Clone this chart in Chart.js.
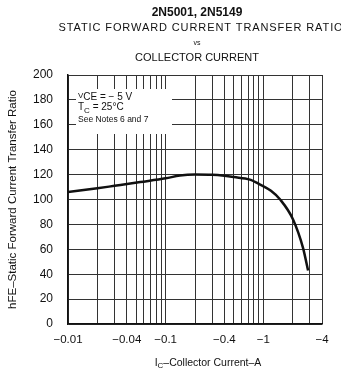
<!DOCTYPE html>
<html>
<head>
<meta charset="utf-8">
<script src="https://cdn.jsdelivr.net/npm/chart.js@4.4.1/dist/chart.umd.min.js"></script>
<style>
  html, body { margin: 0; padding: 0; background: #fff; }
  #wrap { width: 341px; height: 371px; }
</style>
</head>
<body>
<div id="wrap"><canvas id="hfeChart" width="341" height="371"></canvas></div>
<script>
// ============================================================
// hFE vs IC — 2N5001 / 2N5149
// ============================================================

// collector current magnitude (A), log axis
const currentA = [0.01, 0.02, 0.03, 0.055, 0.1, 0.14, 0.2, 0.3, 0.4, 0.5, 0.73, 0.93, 1.2, 1.49, 2.02, 2.56, 2.88];
// static forward current transfer ratio
const hfeValues = [106, 109, 111, 114, 117, 119.2, 120, 119.8, 119, 118, 116, 112, 107, 100, 84, 61, 43];

const xGridTicks = [0.01, 0.02, 0.03, 0.04, 0.05, 0.06, 0.07, 0.08, 0.09,
  0.1, 0.2, 0.3, 0.4, 0.5, 0.6, 0.7, 0.8, 0.9, 1, 2, 3, 4];
const xLabelTicks = [0.01, 0.04, 0.1, 0.4, 1, 4];
const xLabelText = ["\u22120.01", "\u22120.04", "\u22120.1", "\u22120.4", "\u22121", "\u22124"];

const FONT = "'Liberation Sans', Arial, sans-serif";
const INK = "#111";

// draw a run of [text, fontSize, baselineShift] pieces
function drawRuns(ctx, x, y, runs) {
  let cx = x;
  runs.forEach(([txt, size, dy]) => {
    ctx.font = size + "px " + FONT;
    ctx.fillText(txt, cx, y + dy);
    cx += ctx.measureText(txt).width;
  });
  return cx - x;
}

// ------------------------------------------------------------
// header, notes and x title
// ------------------------------------------------------------
const textPlugin = {
  id: "textPlugin",
  beforeDatasetsDraw(chart) {
    // notes block hides the grid behind it
    const ctx = chart.ctx;
    const area = chart.chartArea;
    ctx.save();
    ctx.fillStyle = "#fff";
    ctx.fillRect(area.left + 8, 89, 96, 45);
    ctx.restore();
  },
  afterDraw(chart) {
    const ctx = chart.ctx;
    const area = chart.chartArea;
    const cx = (area.left + area.right) / 2 + 2;

    ctx.save();
    ctx.fillStyle = INK;
    ctx.textAlign = "center";
    ctx.textBaseline = "middle";

    ctx.font = "bold 12px " + FONT;
    ctx.fillText("2N5001, 2N5149", cx, 13);
    ctx.font = "11px " + FONT;
    ctx.letterSpacing = "0.9px";
    ctx.fillText("STATIC FORWARD CURRENT TRANSFER RATIO", cx + 4, 28);
    ctx.letterSpacing = "0px";
    ctx.font = "7px " + FONT;
    ctx.fillText("vs", cx, 43);
    ctx.font = "11px " + FONT;
    ctx.fillText("COLLECTOR CURRENT", cx, 58);

    // notes inside the plot
    const x0 = area.left + 10;
    ctx.textAlign = "left";
    ctx.textBaseline = "alphabetic";
    drawRuns(ctx, x0, 100, [["V", 8, -2], ["CE", 10, 0], [" = \u2212 5 V", 10, 0]]);
    drawRuns(ctx, x0, 110, [["T", 10, 0], ["C", 8, 3], [" = 25\u00B0C", 10, 0]]);
    drawRuns(ctx, x0, 122, [["See Notes 6 and 7", 8.5, 0]]);

    // x axis title with subscript
    const runs = [["I", 10.5, 0], ["C", 8, 2], ["\u2013Collector Current\u2013A", 10.5, 0]];
    ctx.globalAlpha = 0;
    const w = drawRuns(ctx, 0, 0, runs);
    ctx.globalAlpha = 1;
    drawRuns(ctx, 208 - w / 2, 366, runs);

    ctx.restore();
  }
};

// ------------------------------------------------------------
// chart
// ------------------------------------------------------------
const points = currentA.map((c, i) => ({ x: c, y: hfeValues[i] }));

new Chart(document.getElementById("hfeChart"), {
  type: "line",
  data: {
    datasets: [
      {
        data: points,
        borderColor: INK,
        borderWidth: 2.5,
        pointRadius: 0,
        cubicInterpolationMode: "monotone",
        fill: false
      }
    ]
  },
  options: {
    responsive: false,
    animation: false,
    layout: { padding: { left: 6, right: 19, top: 75, bottom: 4 } },
    plugins: {
      legend: { display: false },
      tooltip: { enabled: false }
    },
    scales: {
      x: {
        type: "logarithmic",
        min: 0.01,
        max: 4,
        afterBuildTicks(scale) {
          scale.ticks = xGridTicks.map(v => ({ value: v }));
        },
        afterFit(scale) {
          scale.height = 371 - 324 - 4;
        },
        grid: { color: "#333", lineWidth: 1, drawTicks: false },
        border: { color: INK, width: 1.5 },
        ticks: {
          autoSkip: false,
          maxRotation: 0,
          padding: 9,
          color: INK,
          font: { family: FONT, size: 11.5 },
          callback(value) {
            const idx = xLabelTicks.findIndex(t => Math.abs(t - value) < 1e-9);
            return idx >= 0 ? xLabelText[idx] : "";
          }
        }
      },
      y: {
        min: 0,
        max: 200,
        afterFit(scale) {
          scale.width = 68 - 6;
        },
        grid: { color: "#333", lineWidth: 1, drawTicks: false },
        border: { color: INK, width: 1.5 },
        ticks: {
          stepSize: 20,
          padding: 15,
          color: INK,
          font: { family: FONT, size: 12 }
        },
        title: {
          display: true,
          text: "hFE\u2013Static Forward Current Transfer Ratio",
          color: INK,
          font: { family: FONT, size: 11.5 },
          padding: { top: 0, bottom: 0 }
        }
      }
    }
  },
  plugins: [textPlugin]
});
</script>
</body>
</html>
